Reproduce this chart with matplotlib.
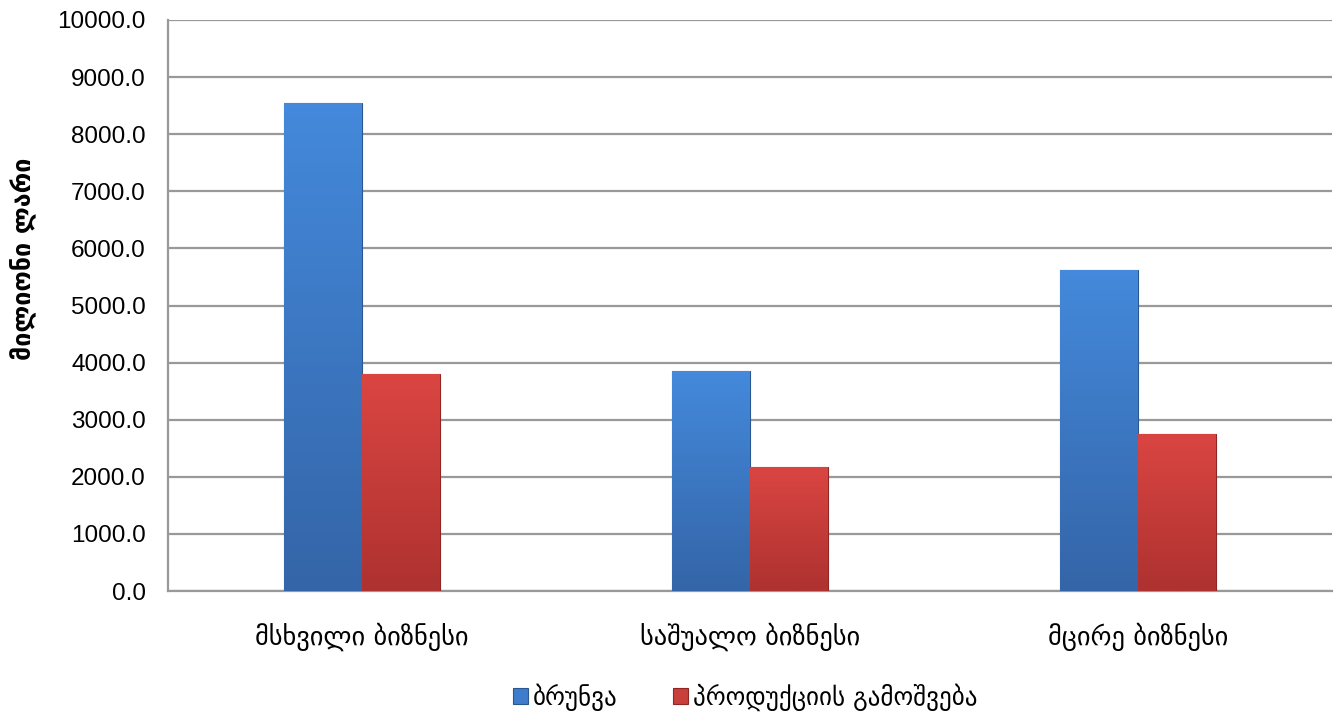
import matplotlib
matplotlib.use("Agg")
import matplotlib.pyplot as plt
import numpy as np
from matplotlib.colors import LinearSegmentedColormap

categories = ["მსხვილი ბიზნესი", "საშუალო ბიზნესი", "მცირე ბიზნესი"]
series_names = ["ბრუნვა", "პროდუქციის გამოშვება"]
turnover = [8550.0, 3850.0, 5620.0]
production = [3800.0, 2180.0, 2750.0]
y_ticks = [0, 1000, 2000, 3000, 4000, 5000, 6000, 7000, 8000, 9000, 10000]
y_label = "მილიონი ლარი"

plt.rcParams['font.family'] = ['DejaVu Sans']

fig = plt.figure(figsize=(13.34, 7.17), dpi=100)
ax = fig.add_axes([168/1334, 1-591/717, (1332-168)/1334, (591-20)/717])

x = np.arange(len(categories))
w = 0.2
colors = ["#3D7DCB", "#C93F3C"]
edge = ["#2A5790", "#8E2624"]
b1 = ax.bar(x - w/2, turnover, w, color=colors[0], edgecolor=edge[0], linewidth=0.8, label=series_names[0], zorder=3)
b2 = ax.bar(x + w/2, production, w, color=colors[1], edgecolor=edge[1], linewidth=0.8, label=series_names[1], zorder=3)

# gradient shading clipped to each bar
def shade(bars, c_light, c_dark):
    cmap = LinearSegmentedColormap.from_list("g", [c_light, c_dark])
    for p in bars:
        bb = p.get_bbox()
        grad = np.linspace(0, 1, 64).reshape(-1, 1)
        im = ax.imshow(grad, cmap=cmap, aspect='auto', origin='upper',
                       extent=[bb.x0, bb.x1, bb.y0, bb.y1], zorder=3.5)
        im.set_clip_path(p)
shade(b1, "#4489DB", "#3465A8")
shade(b2, "#DA4542", "#AE3230")

ax.set_xlim(-0.5, 2.5)
ax.set_ylim(0, 10000)
ax.set_yticks(y_ticks)
ax.set_yticklabels([f"{v:.1f}" for v in y_ticks], fontfamily='Liberation Sans', fontsize=17.5)
ax.set_xticks(x)
ax.set_xticklabels(categories, fontsize=19)
ax.tick_params(axis='x', length=0, pad=23)
ax.tick_params(axis='y', length=0, pad=16)
ax.yaxis.grid(True, color='#999999', linewidth=1.6, zorder=0)
ax.set_axisbelow(True)
for s in ['top', 'right']:
    ax.spines[s].set_visible(False)
for s in ['left', 'bottom']:
    ax.spines[s].set_color('#999999')
    ax.spines[s].set_linewidth(1.6)
ax.set_ylabel(y_label, fontsize=18, fontweight='bold')
ax.yaxis.set_label_coords(-131/1164, (591-259)/571)

leg = fig.legend(handles=[b1, b2], labels=series_names, loc='center', bbox_to_anchor=(745/1334, 1-697/717),
                 ncol=2, frameon=False, fontsize=18, handlelength=0.6, handleheight=0.6,
                 columnspacing=2.2, handletextpad=0.2)

fig.savefig("out.png", dpi=100)
